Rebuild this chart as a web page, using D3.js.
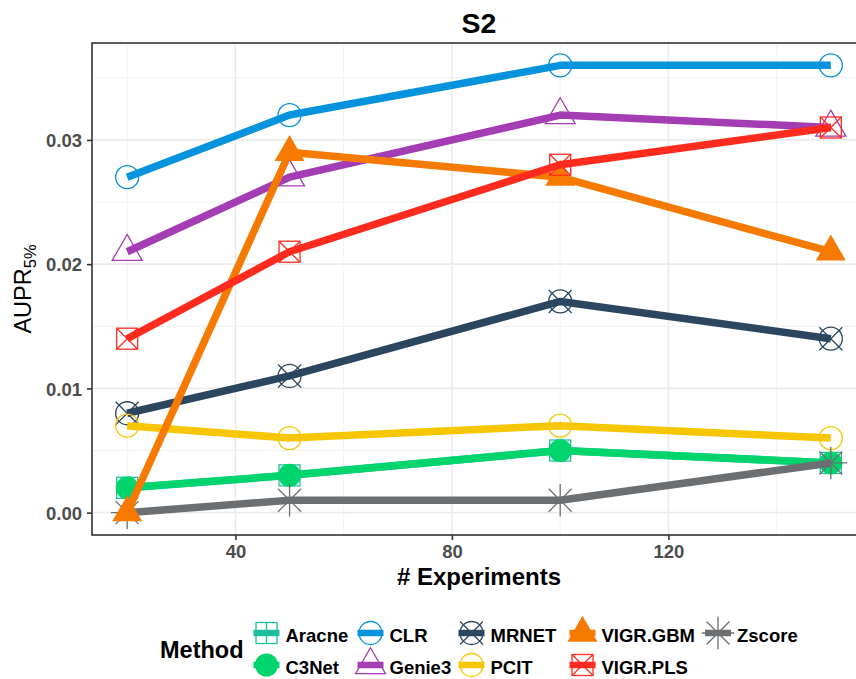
<!DOCTYPE html>
<html>
<head>
<meta charset="utf-8">
<script src="https://cdn.jsdelivr.net/npm/d3@7/dist/d3.min.js"></script>
<style>
  html, body { margin: 0; padding: 0; background: #fff; }
  svg { display: block; font-family: "Liberation Sans", Arial, Helvetica, sans-serif; }
</style>
</head>
<body>
<svg id="chart" width="856" height="679"></svg>
<script>
// ---- Data ----
const experiments = [20, 50, 100, 150];
const methods = ["Aracne", "C3Net", "CLR", "Genie3", "MRNET", "PCIT", "VIGR.GBM", "VIGR.PLS", "Zscore"];
const aracne  = [0.002, 0.003, 0.005, 0.004];
const c3net   = [0.002, 0.003, 0.005, 0.004];
const clr     = [0.027, 0.032, 0.036, 0.036];
const genie3  = [0.021, 0.027, 0.032, 0.031];
const mrnet   = [0.008, 0.011, 0.017, 0.014];
const pcit    = [0.007, 0.006, 0.007, 0.006];
const vigrGbm = [0.000, 0.029, 0.027, 0.021];
const vigrPls = [0.014, 0.021, 0.028, 0.031];
const zscore  = [0.000, 0.001, 0.001, 0.004];
const xTicks = [40, 80, 120];
const yTicks = [0.00, 0.01, 0.02, 0.03];
const xMinor = [20, 60, 100, 140];
const yMinor = [0.005, 0.015, 0.025, 0.035];

const seriesValues = {
  "Aracne": aracne, "C3Net": c3net, "CLR": clr, "Genie3": genie3, "MRNET": mrnet,
  "PCIT": pcit, "VIGR.GBM": vigrGbm, "VIGR.PLS": vigrPls, "Zscore": zscore
};
const colors = {
  "Aracne": "#1dbf9d", "C3Net": "#00d46c", "CLR": "#0693dd", "Genie3": "#a43db3",
  "MRNET": "#2c465f", "PCIT": "#f6c600", "VIGR.GBM": "#f77a00", "VIGR.PLS": "#ff2b1e",
  "Zscore": "#6c6f72"
};
const shapes = {
  "Aracne": "squarePlus", "C3Net": "filledCircle", "CLR": "openCircle", "Genie3": "openTriangle",
  "MRNET": "circleX", "PCIT": "openCircle", "VIGR.GBM": "filledTriangle", "VIGR.PLS": "squareX",
  "Zscore": "asterisk"
};
const drawOrder = ["Aracne", "C3Net", "CLR", "Genie3", "MRNET", "PCIT", "Zscore", "VIGR.GBM", "VIGR.PLS"];

// ---- Layout ----
const svg = d3.select("#chart");
const P = { left: 92, right: 866, top: 43, bottom: 535 };
const x = d3.scaleLinear().domain([13.5, 156.5]).range([P.left, P.right]);
const y = d3.scaleLinear().domain([-0.0018, 0.0378]).range([P.bottom, P.top]);

svg.append("rect").attr("width", 856).attr("height", 679).attr("fill", "#fff");

// grid
const grid = svg.append("g");
grid.selectAll(".xmin").data(xMinor).enter().append("line")
  .attr("x1", d => x(d)).attr("x2", d => x(d)).attr("y1", P.top).attr("y2", P.bottom)
  .attr("stroke", "#f2f2f2").attr("stroke-width", 1);
grid.selectAll(".ymin").data(yMinor).enter().append("line")
  .attr("y1", d => y(d)).attr("y2", d => y(d)).attr("x1", P.left).attr("x2", P.right)
  .attr("stroke", "#f2f2f2").attr("stroke-width", 1);
grid.selectAll(".xmaj").data(xTicks).enter().append("line")
  .attr("x1", d => x(d)).attr("x2", d => x(d)).attr("y1", P.top).attr("y2", P.bottom)
  .attr("stroke", "#ebebeb").attr("stroke-width", 1.6);
grid.selectAll(".ymaj").data(yTicks).enter().append("line")
  .attr("y1", d => y(d)).attr("y2", d => y(d)).attr("x1", P.left).attr("x2", P.right)
  .attr("stroke", "#ebebeb").attr("stroke-width", 1.6);

// markers
function drawMarker(g, shape, cx, cy, color) {
  const r = 11.5, s = 10.5, sw = 1.3;
  const m = g.append("g").attr("transform", `translate(${cx},${cy})`);
  const ln = (x1, y1, x2, y2) => m.append("line").attr("x1", x1).attr("y1", y1).attr("x2", x2).attr("y2", y2)
    .attr("stroke", color).attr("stroke-width", sw);
  const tr = 17.3;
  const triPts = `0,${-tr} ${0.866 * tr},${tr / 2} ${-0.866 * tr},${tr / 2}`;
  switch (shape) {
    case "squarePlus":
      m.append("rect").attr("x", -s).attr("y", -s).attr("width", 2 * s).attr("height", 2 * s)
        .attr("fill", "none").attr("stroke", color).attr("stroke-width", sw);
      ln(-s, 0, s, 0); ln(0, -s, 0, s);
      break;
    case "filledCircle":
      m.append("circle").attr("r", r).attr("fill", color);
      break;
    case "openCircle":
      m.append("circle").attr("r", r).attr("fill", "none").attr("stroke", color).attr("stroke-width", sw);
      break;
    case "openTriangle":
      m.append("polygon").attr("points", triPts).attr("fill", "none").attr("stroke", color).attr("stroke-width", sw);
      break;
    case "filledTriangle":
      m.append("polygon").attr("points", triPts).attr("fill", color);
      break;
    case "circleX":
      m.append("circle").attr("r", r).attr("fill", "none").attr("stroke", color).attr("stroke-width", sw);
      ln(-r, -r, r, r); ln(-r, r, r, -r);
      break;
    case "squareX":
      m.append("rect").attr("x", -s).attr("y", -s).attr("width", 2 * s).attr("height", 2 * s)
        .attr("fill", "none").attr("stroke", color).attr("stroke-width", sw);
      ln(-s, -s, s, s); ln(-s, s, s, -s);
      break;
    case "asterisk": {
      const p = 16.3;
      ln(-p, 0, p, 0); ln(0, -p, 0, p);
      ln(-r, -r, r, r); ln(-r, r, r, -r);
      break;
    }
  }
}

// series
const lineGen = d3.line().x(d => x(d[0])).y(d => y(d[1]));
const plot = svg.append("g");
drawOrder.forEach(name => {
  const pts = experiments.map((e, i) => [e, seriesValues[name][i]]);
  const g = plot.append("g");
  g.append("path").attr("d", lineGen(pts)).attr("fill", "none")
    .attr("stroke", colors[name]).attr("stroke-width", 7.5)
    .attr("stroke-linejoin", "round").attr("stroke-linecap", "butt");
  pts.forEach(p => drawMarker(g, shapes[name], x(p[0]), y(p[1]), colors[name]));
});

// panel border
svg.append("rect").attr("x", P.left).attr("y", P.top)
  .attr("width", P.right - P.left).attr("height", P.bottom - P.top)
  .attr("fill", "none").attr("stroke", "#333").attr("stroke-width", 1.6);

// axes
const xAxis = svg.append("g").attr("transform", `translate(0,${P.bottom})`)
  .call(d3.axisBottom(x).tickValues(xTicks).tickSize(5).tickPadding(5).tickFormat(d3.format("d")));
const yAxis = svg.append("g").attr("transform", `translate(${P.left},0)`)
  .call(d3.axisLeft(y).tickValues(yTicks).tickSize(5).tickPadding(5).tickFormat(d3.format(".2f")));
[xAxis, yAxis].forEach(a => {
  a.select(".domain").remove();
  a.selectAll(".tick line").attr("stroke", "#333").attr("stroke-width", 1.6);
  a.selectAll(".tick text").attr("fill", "#4d4d4d").attr("font-size", 18.5).attr("font-weight", "bold")
    .attr("font-family", "'Liberation Sans', Arial, sans-serif");
});
xAxis.selectAll(".tick text").attr("dy", "0.71em");
yAxis.selectAll(".tick text").attr("dy", "0.36em");

// titles
svg.append("text").attr("x", (P.left + P.right) / 2).attr("y", 32.5)
  .attr("text-anchor", "middle").attr("font-size", 28.5).attr("font-weight", "bold").attr("fill", "#000")
  .text("S2");
svg.append("text").attr("x", (P.left + P.right) / 2).attr("y", 585)
  .attr("text-anchor", "middle").attr("font-size", 24).attr("font-weight", "bold").attr("fill", "#000")
  .text("# Experiments");
const yt = svg.append("text").attr("transform", `translate(31,${(P.top + P.bottom) / 2}) rotate(-90)`)
  .attr("text-anchor", "middle").attr("font-size", 23.5).attr("fill", "#000");
yt.append("tspan").text("AUPR");
yt.append("tspan").attr("font-size", 16.5).attr("dy", 5).text("5%");

// legend
const legendCols = [["Aracne", "C3Net"], ["CLR", "Genie3"], ["MRNET", "PCIT"], ["VIGR.GBM", "VIGR.PLS"], ["Zscore"]];
const keyX = [266.5, 370.5, 471.5, 582.5, 718];
const rowY = [633, 665];
const leg = svg.append("g");
leg.append("text").attr("x", 160).attr("y", 658).attr("font-size", 23.5).attr("font-weight", "bold")
  .attr("fill", "#000").text("Method");
legendCols.forEach((col, ci) => {
  col.forEach((name, ri) => {
    const cx = keyX[ci], cy = rowY[ri];
    const g = leg.append("g");
    g.append("line").attr("x1", cx - 13).attr("x2", cx + 13).attr("y1", cy).attr("y2", cy)
      .attr("stroke", colors[name]).attr("stroke-width", 6.5);
    drawMarker(g, shapes[name], cx, cy, colors[name]);
    g.append("text").attr("x", cx + 19).attr("y", cy + 8.5).attr("font-size", 18.5).attr("font-weight", "bold")
      .attr("fill", "#000").text(name);
  });
});
</script>
</body>
</html>
